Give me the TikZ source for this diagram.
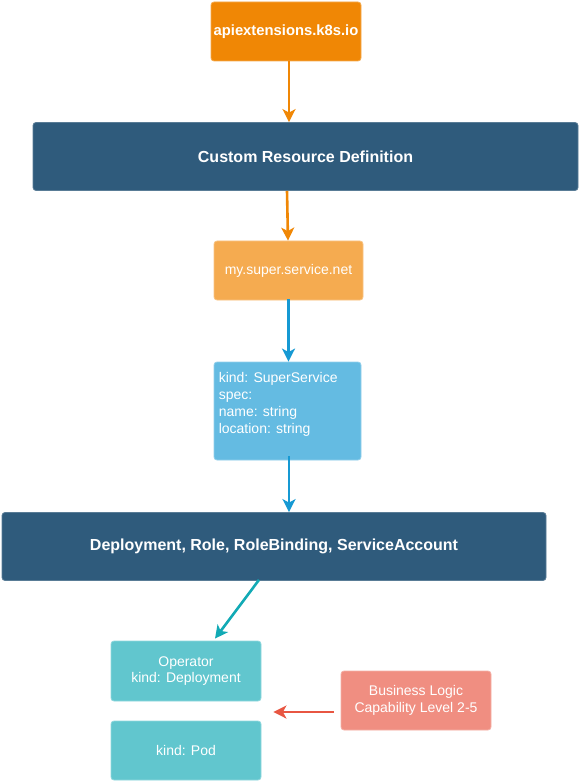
\documentclass[tikz,border=0pt]{standalone}
\usepackage{fontspec}
\setmainfont{Liberation Sans}
\usetikzlibrary{arrows.meta,calc}
\definecolor{cOrange}{HTML}{F08705}
\definecolor{cDark}{HTML}{2F5B7C}
\definecolor{cLOrange}{HTML}{F5AB50}
\definecolor{cLBlue}{HTML}{64BBE2}
\definecolor{cBlueArr}{HTML}{1699D3}
\definecolor{cTeal}{HTML}{61C6CE}
\definecolor{cTealArr}{HTML}{12AAB5}
\definecolor{cSalmon}{HTML}{F08E81}
\definecolor{cRedArr}{HTML}{E85642}
\tikzset{
  box/.style={rectangle, rounded corners=3pt, text=white, align=center, inner sep=0pt,
    font=\fontsize{14}{16.7}\selectfont, line width=0.8pt},
  boldbox/.style={box, font=\fontsize{16}{19}\selectfont\bfseries},
  arr/.style={line width=2.6pt, -{Stealth[length=13pt,width=13pt,inset=3.5pt]}},
}
\begin{document}
\begin{tikzpicture}[x=1pt,y=-1pt]
\useasboundingbox (0,0) rectangle (580,783);
\node[boldbox, font=\fontsize{14.8}{17}\selectfont\bfseries, fill=cOrange, draw=cOrange!70!white, minimum width=150pt, minimum height=59pt] (api) at (286,31.5) {apiextensions.k8s.io};
\node[boldbox, fill=cDark, draw=cDark!80!white, minimum width=545pt, minimum height=68pt] (crd) at (305.5,156.5) {Custom Resource Definition};
\node[box, fill=cLOrange, draw=cLOrange!70!white, minimum width=149pt, minimum height=59pt] (my) at (288.5,270.5) {my.super.service.net};
\node[box, fill=cLBlue, draw=cLBlue!70!white, minimum width=147pt, minimum height=98pt] (kind) at (287.5,411) {};
\node[anchor=north west, inner sep=0pt, text=white, align=left, font=\fontsize{14}{16.7}\selectfont] (kindtxt) at ($(kind.north west)+(5,11)$) {kind: SuperService\\spec:\\name: string\\location: string};
\node[boldbox, fill=cDark, draw=cDark!80!white, minimum width=544pt, minimum height=68pt] (dep) at (274,546.5) {Deployment, Role, RoleBinding, ServiceAccount};
\node[box, fill=cTeal, draw=cTeal!70!white, minimum width=150pt, minimum height=60pt] (op) at (186,671) {Operator\\kind: Deployment};
\node[box, fill=cTeal, draw=cTeal!70!white, minimum width=150pt, minimum height=59pt] (pod) at (186,750.5) {kind: Pod};
\node[box, fill=cSalmon, draw=cSalmon!70!white, minimum width=150pt, minimum height=59pt] (bl) at (416,700.5) {Business Logic\\Capability Level 2-5};
\coordinate (gap) at ($(op.south east)!0.5!(pod.north east)$);
\draw[arr, cOrange] ([xshift=3pt]api.south) -- ([xshift=3pt]api.south |- crd.north);
\draw[arr, cOrange] ([xshift=-1.5pt]my.north |- crd.south) -- ([xshift=-0.5pt]my.north);
\draw[arr, cBlueArr] ([yshift=1pt]my.south) -- (my.south |- kind.north);
\draw[arr, cBlueArr] ([xshift=1.5pt,yshift=4pt]kind.south) -- ([xshift=1.5pt]kind.south |- dep.north);
\draw[arr, cTealArr] ([xshift=-15pt,yshift=1pt]dep.south) -- ([xshift=29pt,yshift=2pt]op.north);
\draw[arr, cRedArr] ([xshift=-7pt,yshift=-1pt]bl.west |- gap) -- ([xshift=12pt,yshift=-1pt]gap);
\end{tikzpicture}
\end{document}
